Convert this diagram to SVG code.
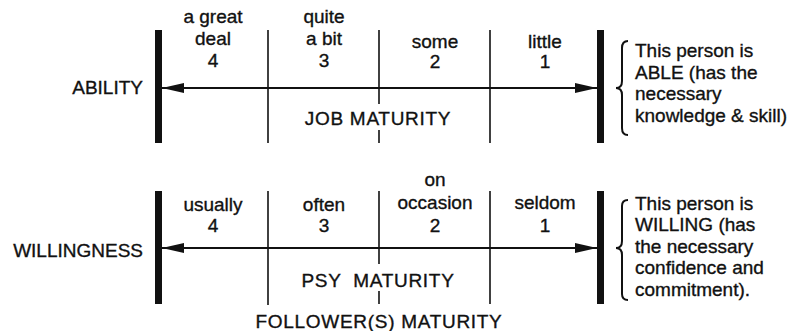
<svg xmlns="http://www.w3.org/2000/svg" width="802" height="331" viewBox="0 0 802 331">
<defs>
<style>
text{font-family:"Liberation Sans",Arial,Helvetica,sans-serif;font-size:19px;fill:#111;stroke:#111;stroke-width:0.35;}
.c{text-anchor:middle;}
.r{text-anchor:end;}
.w{letter-spacing:0.7px;}
.bar{fill:#111;}
.div{stroke:#111;stroke-width:1.6;fill:none;}
.axis{stroke:#111;stroke-width:2.2;fill:none;}
.brace{stroke:#111;stroke-width:2;fill:none;}
</style>
<marker id="ah" viewBox="0 0 22 10" refX="22" refY="5" markerWidth="22" markerHeight="10" markerUnits="userSpaceOnUse" orient="auto-start-reverse">
<path d="M0,0 L22,5 L0,10 Z" fill="#111"/>
</marker>
</defs>
<rect width="802" height="331" fill="#fff"/>

<g id="ability-scale">
<text class="r" x="143" y="94">ABILITY</text>
<rect class="bar" x="155" y="30" width="7" height="113"/>
<rect class="bar" x="597" y="30" width="7" height="113"/>
<line class="div" x1="268" y1="30" x2="268" y2="143"/>
<line class="div" x1="379" y1="30" x2="379" y2="104"/>
<line class="div" x1="379" y1="130" x2="379" y2="143"/>
<line class="div" x1="490" y1="30" x2="490" y2="143"/>
<text class="c" x="213" y="23">a great</text>
<text class="c" x="213" y="45">deal</text>
<text class="c" x="213" y="67">4</text>
<text class="c" x="324" y="23">quite</text>
<text class="c" x="324" y="45">a bit</text>
<text class="c" x="324" y="67">3</text>
<text class="c" x="435" y="48">some</text>
<text class="c" x="435" y="68">2</text>
<text class="c" x="545" y="48">little</text>
<text class="c" x="545" y="68">1</text>
<text class="c w" x="378" y="125">JOB MATURITY</text>
</g>

<g id="ability-note">
<path class="brace" d="M628,41 Q622,41 622,48 L622,81 Q622,88 616,88 Q622,88 622,95 L622,128 Q622,135 628,135"/>
<text x="635" y="57">This person is</text>
<text x="635" y="79">ABLE (has the</text>
<text x="635" y="100">necessary</text>
<text x="635" y="122">knowledge &amp; skill)</text>
</g>

<g id="willingness-scale">
<text class="r" x="143" y="257">WILLINGNESS</text>
<rect class="bar" x="155" y="191" width="7" height="113"/>
<rect class="bar" x="597" y="191" width="7" height="113"/>
<line class="div" x1="268" y1="191" x2="268" y2="305"/>
<line class="div" x1="379" y1="191" x2="379" y2="264"/>
<line class="div" x1="379" y1="291" x2="379" y2="304"/>
<line class="div" x1="490" y1="191" x2="490" y2="304"/>
<text class="c" x="213" y="211">usually</text>
<text class="c" x="213" y="232">4</text>
<text class="c" x="324" y="211">often</text>
<text class="c" x="324" y="232">3</text>
<text class="c" x="435" y="186">on</text>
<text class="c" x="435" y="209">occasion</text>
<text class="c" x="435" y="232">2</text>
<text class="c" x="545" y="209">seldom</text>
<text class="c" x="545" y="232">1</text>
<text class="c w" x="378" y="287" xml:space="preserve">PSY  MATURITY</text>
</g>

<g id="willingness-note">
<path class="brace" d="M628,200 Q622,200 622,206 L622,241 Q622,248 616,248 Q622,248 622,255 L622,294 Q622,300 628,300"/>
<text x="635" y="210">This person is</text>
<text x="635" y="231">WILLING (has</text>
<text x="635" y="253">the necessary</text>
<text x="635" y="274">confidence and</text>
<text x="635" y="296">commitment).</text>
</g>

<g id="footer">
<text class="c w" x="379" y="328">FOLLOWER(S) MATURITY</text>
</g>

<g id="connectors">
<line class="axis" x1="162" y1="88" x2="597" y2="88" marker-start="url(#ah)" marker-end="url(#ah)"/>
<line class="axis" x1="162" y1="248" x2="597" y2="248" marker-start="url(#ah)" marker-end="url(#ah)"/>
</g>
</svg>
